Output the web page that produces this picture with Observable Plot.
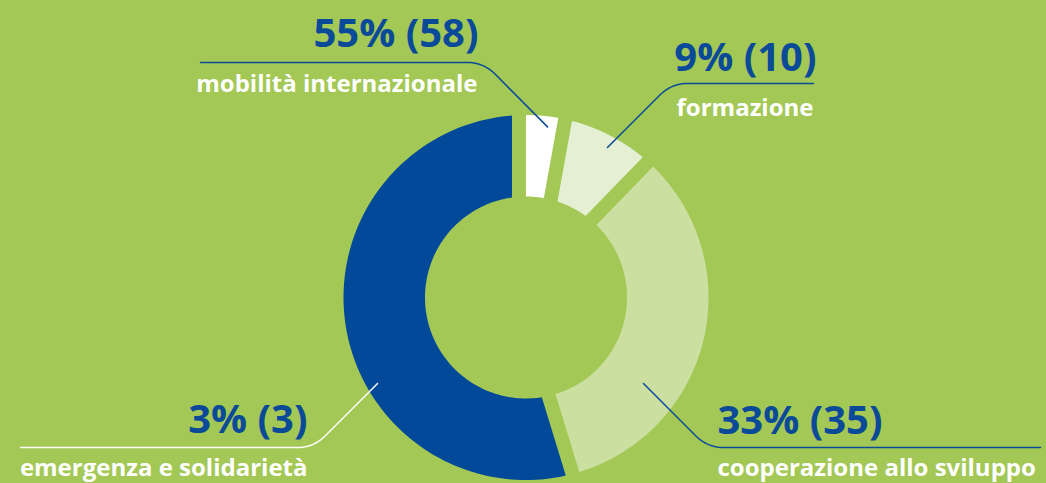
<!DOCTYPE html>
<html><head><meta charset="utf-8">
<script src="https://cdn.jsdelivr.net/npm/d3@7"></script>
<script src="https://cdn.jsdelivr.net/npm/@observablehq/plot@0.6"></script>
<style>
html,body{margin:0;padding:0;background:#a3c855;overflow:hidden}
#chart svg{display:block}
</style></head><body><div id="chart"></div>
<script>
// ---- data ----
const categories = ["mobilità internazionale", "formazione", "cooperazione allo sviluppo", "emergenza e solidarietà"];
const counts = [3, 10, 35, 58];
const valueLabels = ["55% (58)", "9% (10)", "33% (35)", "3% (3)"];

// ---- style ----
const sliceColors = ["#ffffff", "#e4efd4", "#cbdfa1", "#03499a"];
const blue = "#0a4a98";
const W = 1046, H = 483;
const cx = 525.5, cy = 297;          // donut centre in pixels
const R = 182.5, r0 = 101, gap = 14; // outer / inner radius, gap width
const FONT = "Open Sans";

// ---- layout of labels (offsets from donut centre, y up) ----
const labelLayout = [
  {pct: [-47.5, 251], name: [-48.5, 206], anchor: "end",  leaderAngle: 7.2,   leaderR: 172,   elbow: [-42.5, 235], end: [-325.5, 235], line: blue},
  {pct: [290.5, 227], name: [287.5, 182], anchor: "end",  leaderAngle: 28.5,  leaderR: 170.7, elbow: [145.5, 214], end: [287.5, 214],  line: blue},
  {pct: [191.5, -136], name: [191.5, -178], anchor: "start", leaderAngle: 126.2, leaderR: 145.6, elbow: [181.5, -150], end: [514.5, -150], line: blue},
  {pct: [-218.5, -135], name: [-218.5, -178], anchor: "end", leaderAngle: 239.9, leaderR: 171.6, elbow: [-212.5, -150], end: [-505.5, -150], line: "#ffffff"}
];

// ---- slices ----
const pie = d3.pie().sort(null).value(d => d)(counts);
const polar = (a, rad) => ({x: rad * Math.sin(a), y: rad * Math.cos(a)});
function slicePoly(p, i) {
  const d = (i % 2 === 1) ? gap : 0;
  const a0 = p.startAngle, a1 = p.endAngle;
  const oa0 = a0 + Math.asin(d / R), oa1 = a1 - Math.asin(d / R);
  const ia0 = a0 + Math.asin(d / r0), ia1 = a1 - Math.asin(d / r0);
  const pts = [];
  const n = 120;
  for (let k = 0; k <= n; k++) pts.push(polar(oa0 + (oa1 - oa0) * k / n, R));
  for (let k = 0; k <= n; k++) pts.push(polar(ia1 + (ia0 - ia1) * k / n, r0));
  pts.push(pts[0]);
  return pts;
}

function leader(L) {
  const a = L.leaderAngle * Math.PI / 180;
  const A = polar(a, L.leaderR);
  const E = {x: L.elbow[0], y: L.elbow[1]};
  const T = {x: L.end[0], y: L.end[1]};
  const rc = 16;
  const unit = (p, q) => { const dx = q.x - p.x, dy = q.y - p.y, l = Math.hypot(dx, dy); return {x: dx / l, y: dy / l}; };
  const u1 = unit(E, A), u2 = unit(E, T);
  const P1 = {x: E.x + u1.x * rc, y: E.y + u1.y * rc};
  const P2 = {x: E.x + u2.x * rc, y: E.y + u2.y * rc};
  const pts = [A];
  for (let k = 0; k <= 12; k++) {
    const t = k / 12;
    pts.push({
      x: (1 - t) * (1 - t) * P1.x + 2 * (1 - t) * t * E.x + t * t * P2.x,
      y: (1 - t) * (1 - t) * P1.y + 2 * (1 - t) * t * E.y + t * t * P2.y
    });
  }
  pts.push(T);
  return pts;
}

const marks = [];
pie.forEach((p, i) => {
  marks.push(Plot.line(slicePoly(p, i), {x: "x", y: "y", fill: sliceColors[i], stroke: "none"}));
});
labelLayout.forEach((L, i) => {
  marks.push(Plot.line(leader(L), {x: "x", y: "y", stroke: L.line, strokeWidth: 1.5}));
  marks.push(Plot.text([{x: L.pct[0], y: L.pct[1], t: valueLabels[i]}], {
    x: "x", y: "y", text: "t", textAnchor: L.anchor, lineAnchor: "bottom",
    fontSize: 40, fontWeight: 700, fill: blue, fontFamily: FONT
  }));
  marks.push(Plot.text([{x: L.name[0], y: L.name[1], t: categories[i]}], {
    x: "x", y: "y", text: "t", textAnchor: L.anchor, lineAnchor: "bottom",
    fontSize: 24, fontWeight: 700, fill: "#ffffff", fontFamily: FONT
  }));
});

const chart = Plot.plot({
  width: W, height: H, margin: 0,
  x: {domain: [-cx, W - cx], axis: null},
  y: {domain: [-(H - cy), cy], axis: null},
  style: {background: "transparent", fontFamily: FONT, overflow: "visible"},
  marks
});
document.getElementById("chart").appendChild(chart);
</script>
</body></html>
